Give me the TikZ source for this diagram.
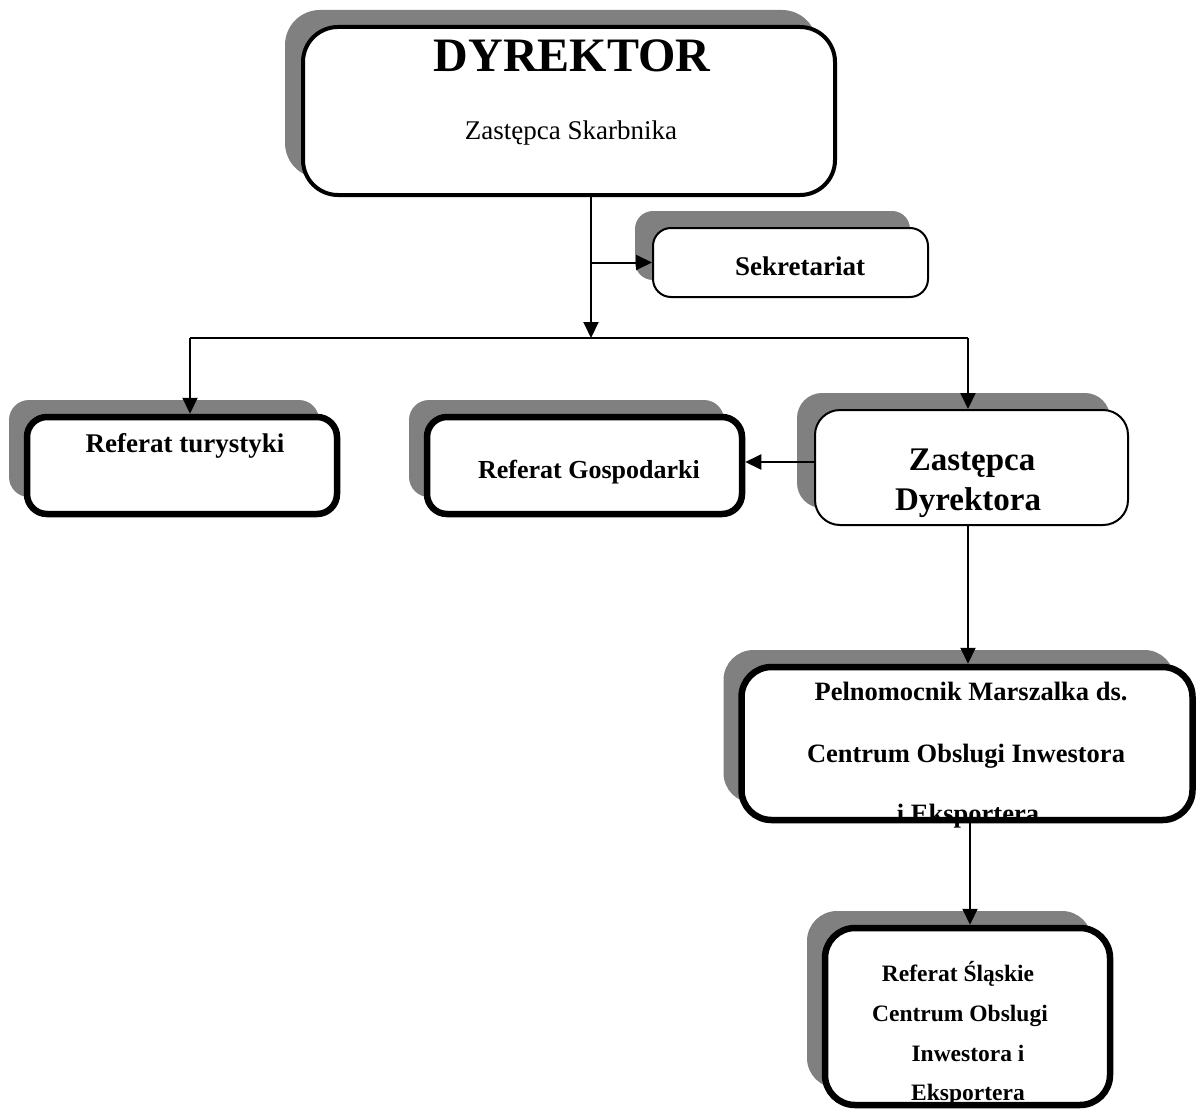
\documentclass[tikz,border=0pt]{standalone}
\usepackage{fontspec}
\setmainfont{Liberation Serif}
\usetikzlibrary{arrows.meta,shadows}
\definecolor{shade}{HTML}{808080}
\begin{document}
\begin{tikzpicture}[x=1pt,y=-1pt,
  orgbox/.style={draw=black, fill=white, inner sep=0pt,
    drop shadow={shadow xshift=-18pt, shadow yshift=17pt, fill=shade, opacity=1}},
  conn/.style={line width=2pt},
  arr/.style={conn, -{Triangle[length=16pt,width=15pt]}},
  lbl/.style={anchor=base, inner sep=0pt, font=\bfseries\fontsize{#1}{#1}\selectfont},
  plainlbl/.style={anchor=base, inner sep=0pt, font=\fontsize{#1}{#1}\selectfont}]
\useasboundingbox (0,0) rectangle (1198,1110);

% boxes
\node[orgbox, line width=4pt, rounded corners=35pt, minimum width=532pt, minimum height=168pt] (dyr) at (569,111) {};
\node[orgbox, line width=2pt, rounded corners=18pt, minimum width=275pt, minimum height=69pt] (sek) at (790.5,262.5) {};
\node[orgbox, line width=6.5pt, rounded corners=20pt, minimum width=310pt, minimum height=97pt] (tur) at (182,465.5) {};
\node[orgbox, line width=6.5pt, rounded corners=20pt, minimum width=315pt, minimum height=97pt] (gosp) at (584.5,465.5) {};
\node[orgbox, line width=2pt, rounded corners=25pt, minimum width=313pt, minimum height=115pt] (zast) at (971.5,467.5) {};
\node[orgbox, line width=6.5pt, rounded corners=30pt, minimum width=451pt, minimum height=153pt] (peln) at (967,743.5) {};
\node[orgbox, line width=6.5pt, rounded corners=30pt, minimum width=285pt, minimum height=177pt] (slask) at (967.5,1016.5) {};

% connectors
\coordinate (jn) at (591,338);
\coordinate (hl) at (190,338);
\coordinate (hr) at (968,338);
\coordinate (sj) at (591,262.5);
\coordinate (gy) at (0,462);
\coordinate (vx) at (970,0);
\draw[arr] (dyr.south -| jn) -- (jn);
\draw[arr] (sj) -- (sek.west);
\draw[conn] (hl) -- (hr);
\draw[arr] (hl) -- (tur.north -| hl);
\draw[arr] (hr) -- (zast.north -| hr);
\draw[arr] (zast.west |- gy) -- (gosp.east |- gy);
\draw[arr] (zast.south -| hr) -- (peln.north -| hr);
\draw[arr] (peln.south -| vx) -- (slask.north -| vx);

% texts
\node[lbl=48] (tdyr) at (572,72) {DYREKTOR};
\node[plainlbl=27] (tskarb) at (571,140) {Zastępca Skarbnika};
\node[lbl=27] (tsek) at (800,275) {Sekretariat};
\node[lbl=27] (ttur) at (185,452) {Referat turystyki};
\node[lbl=26] (tgosp) at (589,478) {Referat Gospodarki};
\node[lbl=33] (tz1) at (972,470) {Zastępca};
\node[lbl=33] (tz2) at (968,510) {Dyrektora};
\node[lbl=26.5] (tp1) at (971,700) {Pelnomocnik Marszalka ds.};
\node[lbl=26.5] (tp2) at (966,762) {Centrum Obslugi Inwestora};
\node[lbl=26.5] (tp3) at (968,822) {i Eksportera};
\node[lbl=23.5] (ts1) at (958,981) {Referat Śląskie};
\node[lbl=23.5] (ts2) at (960,1021) {Centrum Obslugi};
\node[lbl=23.5] (ts3) at (968,1061) {Inwestora i};
\node[lbl=23.5] (ts4) at (968,1100) {Eksportera};
\end{tikzpicture}
\end{document}
